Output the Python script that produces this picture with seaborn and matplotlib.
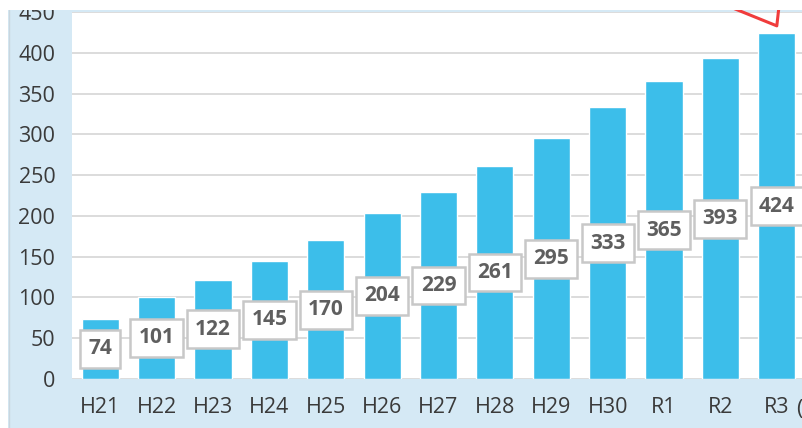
import matplotlib
matplotlib.use("Agg")
import matplotlib.pyplot as plt
import seaborn as sns
import pandas as pd

categories = ["H21", "H22", "H23", "H24", "H25", "H26", "H27", "H28", "H29", "H30", "R1", "R2", "R3"]
values = [74, 101, 122, 145, 170, 204, 229, 261, 295, 333, 365, 393, 424]
yticks = [0, 50, 100, 150, 200, 250, 300, 350, 400, 450]

df = pd.DataFrame({"year": categories, "value": values})

sns.set_theme(style="white")
plt.rcParams["font.family"] = ["Open Sans", "Noto Sans CJK JP", "DejaVu Sans"]

BG = "#D5E9F5"
BAR = "#3CBEEA"
TXT = "#3A3A3A"
W, H = 802, 428

fig = plt.figure(figsize=(8.02, 4.28), dpi=100, facecolor="white")
# light blue chart area
fig.patches.append(plt.Rectangle((8 / W, 0), 1 - 8 / W, 1 - 10 / H, transform=fig.transFigure,
                                 facecolor=BG, edgecolor="none", zorder=-2))
fig.lines.append(plt.Line2D([8.5 / W, 8.5 / W], [0, 1 - 10 / H], transform=fig.transFigure,
                            color="#C9D6DE", linewidth=1, zorder=-1))

ax = fig.add_axes([72 / W, 49 / H, 733 / W, 367 / H])
ax.set_facecolor("white")

sns.barplot(data=df, x="year", y="value", color=BAR, width=0.66, saturation=1, ax=ax, zorder=2)

ax.set_ylim(0, 450)
ax.set_xlim(-0.5, 12.5)
ax.set_yticks(yticks)
ax.yaxis.grid(True, color="#D9D9D9", linewidth=1.3, zorder=0)
ax.set_axisbelow(True)
for s in ax.spines.values():
    s.set_visible(False)
ax.tick_params(axis="y", labelsize=15.5, colors=TXT, length=0, pad=12)
ax.tick_params(axis="x", labelsize=15.5, colors=TXT, length=0, pad=13)
ax.set_xlabel("")
ax.set_ylabel("")

for i, v in enumerate(values):
    ax.text(i, v / 2, str(v), ha="center", va="center", fontsize=15, fontweight="bold",
            color="#5F5F5F", zorder=5,
            bbox=dict(boxstyle="square,pad=0.4", facecolor="white", edgecolor="#C8C8C8", linewidth=1.8))

# red callout lines at top right
ax.plot([11.0, 12.0, 12.06], [461, 433, 470], color="#F03C3C", linewidth=2.2, clip_on=False, zorder=6)

fig.text(796 / W, 1 - 409 / H, "(年度)", ha="left", va="center", fontsize=15.5, color=TXT)

# white strip at the very top (chart cropped)
fig.patches.append(plt.Rectangle((0, 1 - 10 / H), 1, 10 / H, transform=fig.transFigure,
                                 facecolor="white", edgecolor="none", zorder=10))

fig.savefig("out.png", dpi=100, facecolor="white")
